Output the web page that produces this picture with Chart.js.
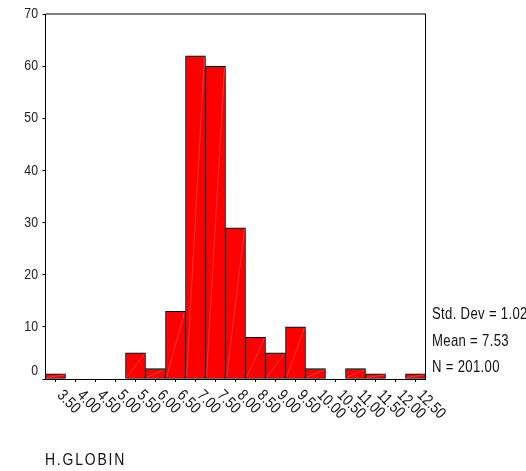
<!DOCTYPE html>
<html>
<head>
<meta charset="utf-8">
<script src="https://cdn.jsdelivr.net/npm/chart.js@4.4.1/dist/chart.umd.min.js"></script>
<style>
  html, body { margin: 0; padding: 0; background: #fff; }
  #wrap { position: relative; width: 526px; height: 471px; }
  canvas { position: absolute; left: 0; top: 0; }
  .txt { position: absolute; font-family: "Liberation Sans", Arial, sans-serif; color: #111; white-space: nowrap; transform-origin: 0 0; transform: scaleX(0.82); }
  .stat { font-size: 16px; left: 432px; letter-spacing: 0.4px; }
  #xtitle { font-size: 17px; left: 45px; top: 450px; letter-spacing: 2.2px; }
</style>
</head>
<body>
<div id="wrap">
  <canvas id="c" width="526" height="471"></canvas>
  <div class="txt stat" style="top:305px">Std. Dev = 1.02</div>
  <div class="txt stat" style="top:332px">Mean = 7.53</div>
  <div class="txt stat" style="top:358px">N = 201.00</div>
  <div class="txt" id="xtitle">H.GLOBIN</div>
</div>
<script>
const binLabels = ["3.50","4.00","4.50","5.00","5.50","6.00","6.50","7.00","7.50","8.00","8.50","9.00","9.50","10.00","10.50","11.00","11.50","12.00","12.50"];
const counts = [1,0,0,0,5,2,13,62,60,29,8,5,10,2,0,2,1,0,1];
const yTicks = [0,10,20,30,40,50,60,70];

const FONT = '"Liberation Sans", Arial, sans-serif';
const NARROW = 0.82;

const framePlugin = {
  id: 'frame',
  afterDatasetsDraw(chart) {
    const ctx = chart.ctx;
    const meta = chart.getDatasetMeta(0);
    ctx.save();
    ctx.strokeStyle = 'rgba(255,170,170,0.6)';
    ctx.lineWidth = 0.5;
    meta.data.forEach((bar, i) => {
      if (!counts[i]) return;
      const p = bar.getProps(['x','y','base','width'], true);
      ctx.beginPath();
      ctx.moveTo(p.x - p.width / 2 + 1, p.base - 1);
      ctx.lineTo(p.x + p.width / 2 - 1, p.y + 1);
      ctx.stroke();
    });
    ctx.restore();
  },
  afterDraw(chart) {
    const ctx = chart.ctx;
    const a = chart.chartArea;
    ctx.save();
    ctx.strokeStyle = '#000';
    ctx.lineWidth = 1;
    ctx.beginPath();
    ctx.moveTo(a.left, a.top);
    ctx.lineTo(a.right, a.top);
    ctx.lineTo(a.right, a.bottom);
    ctx.stroke();
    // y labels (narrow)
    const ys = chart.scales.y;
    ctx.fillStyle = '#222';
    ctx.font = '15px ' + FONT;
    ctx.textAlign = 'right';
    ctx.textBaseline = 'middle';
    yTicks.forEach(v => {
      let y = ys.getPixelForValue(v);
      if (v === 0) y -= 8;
      ctx.save();
      ctx.translate(38, y);
      ctx.scale(NARROW, 1);
      ctx.fillText(String(v), 0, 0);
      ctx.restore();
    });
    // rotated x labels
    const xs = chart.scales.x;
    ctx.fillStyle = '#111';
    ctx.font = '16px ' + FONT;
    ctx.textAlign = 'left';
    ctx.textBaseline = 'middle';
    binLabels.forEach((lab, i) => {
      const x = xs.getPixelForTick(i);
      ctx.save();
      ctx.translate(x + 4, a.bottom + 14);
      ctx.rotate(Math.PI / 4);
      ctx.scale(NARROW, 1);
      ctx.fillText(lab, 0, 0);
      ctx.restore();
    });
    ctx.restore();
  }
};

new Chart(document.getElementById('c'), {
  type: 'bar',
  data: {
    labels: binLabels,
    datasets: [{
      data: counts,
      backgroundColor: '#ff0000',
      borderColor: '#000',
      borderWidth: 1,
      barPercentage: 1,
      categoryPercentage: 1,
      borderSkipped: false
    }]
  },
  options: {
    responsive: false,
    animation: false,
    events: [],
    devicePixelRatio: 1,
    layout: { padding: { top: 14, right: 100.5, bottom: 0, left: 0 } },
    plugins: { legend: { display: false }, tooltip: { enabled: false } },
    scales: {
      x: {
        grid: { display: true, drawOnChartArea: false, drawTicks: true, tickLength: 3, color: '#000', offset: false },
        border: { display: true, color: '#000', width: 1 },
        ticks: { color: 'rgba(0,0,0,0)', maxRotation: 0, autoSkip: false, font: { size: 1 } },
        afterFit(s) { s.height = 92; }
      },
      y: {
        min: 0, max: 70,
        afterBuildTicks(s) { s.ticks = yTicks.map(v => ({ value: v })); },
        grid: { display: true, drawOnChartArea: false, drawTicks: true, tickLength: 3, color: '#000' },
        border: { display: true, color: '#000', width: 1 },
        ticks: { color: 'rgba(0,0,0,0)', padding: 5, font: { family: FONT, size: 15 } },
        afterFit(s) { s.width = 45.5; }
      }
    }
  },
  plugins: [framePlugin]
});
</script>
</body>
</html>
